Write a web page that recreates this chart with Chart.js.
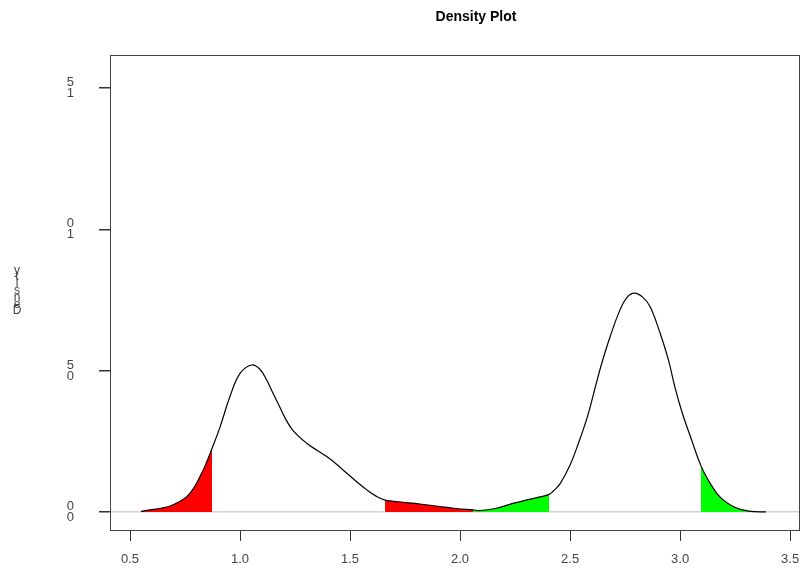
<!DOCTYPE html>
<html>
<head>
<meta charset="utf-8">
<script src="https://cdn.jsdelivr.net/npm/chart.js@4/dist/chart.umd.min.js"></script>
<style>
  body { margin: 0; background: #fff; }
  #wrap { width: 801px; height: 571px; }
</style>
</head>
<body>
<div id="wrap"><canvas id="densityChart" width="801" height="571"></canvas></div>
<script>
// density curve
const densX = [0.55, 0.59, 0.64, 0.68, 0.72, 0.758, 0.79, 0.818, 0.845, 0.873, 0.909, 0.955, 1.0, 1.053, 1.09,
    1.121, 1.15, 1.18, 1.21, 1.241, 1.303, 1.35, 1.394, 1.44, 1.485, 1.53, 1.576, 1.62, 1.659, 1.72, 1.818,
    1.9, 1.98, 2.06, 2.09, 2.16, 2.24, 2.3, 2.364, 2.405, 2.424, 2.455, 2.5, 2.538, 2.58, 2.614, 2.644, 2.682, 2.727,
    2.76, 2.792, 2.83, 2.864, 2.909, 2.947, 2.977, 3.01, 3.05, 3.095, 3.13, 3.167, 3.2, 3.241, 3.28, 3.32, 3.39];
const densY = [0.002, 0.007, 0.013, 0.02, 0.035, 0.054, 0.085, 0.125, 0.17, 0.225, 0.30, 0.41, 0.49, 0.52, 0.505,
    0.467, 0.42, 0.372, 0.325, 0.288, 0.243, 0.218, 0.196, 0.168, 0.137, 0.107, 0.078, 0.055, 0.042, 0.036, 0.028,
    0.02, 0.012, 0.007, 0.005, 0.012, 0.03, 0.042, 0.053, 0.062, 0.074, 0.10, 0.166, 0.243, 0.34, 0.44, 0.526, 0.62, 0.715,
    0.76, 0.774, 0.76, 0.726, 0.633, 0.538, 0.44, 0.35, 0.26, 0.163, 0.11, 0.066, 0.04, 0.019, 0.008, 0.002, 0.0];

// shaded x ranges
const redRanges = [[0.55, 0.873], [1.659, 2.06]];
const greenRanges = [[2.06, 2.405], [3.095, 3.39]];

const xTicks = [0.5, 1.0, 1.5, 2.0, 2.5, 3.0, 3.5];
const xTickLabels = ['0.5', '1.0', '1.5', '2.0', '2.5', '3.0', '3.5'];
const yTicks = [0, 0.5, 1.0, 1.5];
const yTickLabels = [['0', '0'], ['5', '0'], ['0', '1'], ['5', '1']];

const chartTitle = 'Density Plot';
const yTitle = 'Density';

const points = densX.map((x, i) => ({ x: x, y: densY[i] }));

function rangeData(r) {
    return points.filter(p => p.x >= r[0] && p.x <= r[1]);
}

const fillSets = [];
redRanges.forEach(r => fillSets.push({ data: rangeData(r), color: '#ff0000' }));
greenRanges.forEach(r => fillSets.push({ data: rangeData(r), color: '#00ff00' }));

const datasets = fillSets.map(f => ({
    data: f.data,
    fill: 'origin',
    backgroundColor: f.color,
    borderColor: 'rgba(0,0,0,0)',
    borderWidth: 0,
    pointRadius: 0,
    tension: 0.4,
    order: 1
}));
datasets.push({
    data: points,
    fill: false,
    borderColor: '#000',
    borderWidth: 1.2,
    pointRadius: 0,
    tension: 0.4,
    order: 0
});

const decor = {
    id: 'decor',
    beforeDraw(chart) {
        const ctx = chart.ctx;
        ctx.save();
        ctx.fillStyle = '#fff';
        ctx.fillRect(0, 0, chart.width, chart.height);
        ctx.restore();
    },
    afterDraw(chart) {
        const ctx = chart.ctx;
        const a = chart.chartArea;
        ctx.save();
        ctx.strokeStyle = '#444';
        ctx.lineWidth = 1;
        ctx.strokeRect(a.left + 0.5, a.top + 0.5, a.right - a.left - 1, a.bottom - a.top);

        ctx.fillStyle = '#000';
        ctx.font = 'bold 14px "Liberation Sans", Arial, sans-serif';
        ctx.textAlign = 'center';
        ctx.textBaseline = 'middle';
        ctx.fillText(chartTitle, 476, 17);

        // y title: rotated letters come out stacked
        ctx.fillStyle = '#444';
        ctx.font = '12px "Liberation Sans", Arial, sans-serif';
        const chars = yTitle.split('');
        chars.forEach((c, i) => {
            ctx.fillText(c, 17, 311 - i * 6.8);
        });
        ctx.restore();
    }
};

new Chart(document.getElementById('densityChart').getContext('2d'), {
    type: 'line',
    data: { datasets: datasets },
    options: {
        responsive: false,
        animation: false,
        layout: { padding: { top: 55, right: 1, left: 0, bottom: 0 } },
        plugins: {
            legend: { display: false },
            tooltip: { enabled: false },
            title: { display: false }
        },
        scales: {
            x: {
                type: 'linear',
                min: 0.409,
                max: 3.545,
                afterBuildTicks: s => { s.ticks = xTicks.map(v => ({ value: v })); },
                afterFit: s => { s.height = 41; s.paddingLeft = 0; s.paddingRight = 0; },
                border: { display: false },
                grid: {
                    color: 'rgba(0,0,0,0)',
                    tickColor: '#333',
                    tickLength: 11,
                    drawTicks: true
                },
                ticks: {
                    padding: 11,
                    color: '#444',
                    maxRotation: 0,
                    autoSkip: false,
                    font: { family: '"Liberation Sans", Arial, sans-serif', size: 13 },
                    callback: (v) => xTickLabels[xTicks.indexOf(v)]
                }
            },
            y: {
                type: 'linear',
                min: -0.064,
                max: 1.617,
                afterBuildTicks: s => { s.ticks = yTicks.map(v => ({ value: v })); },
                afterFit: s => { s.width = 110; s.paddingTop = 0; s.paddingBottom = 0; },
                border: { display: false },
                grid: {
                    color: ctx => ctx.tick && ctx.tick.value === 0 ? '#d3d3d3' : 'rgba(0,0,0,0)',
                    lineWidth: 1.5,
                    tickColor: '#333',
                    tickLength: 11
                },
                ticks: {
                    padding: 25,
                    color: '#444',
                    autoSkip: false,
                    font: { family: '"Liberation Sans", Arial, sans-serif', size: 13, lineHeight: 0.85 },
                    callback: (v) => yTickLabels[yTicks.indexOf(v)]
                }
            }
        }
    },
    plugins: [decor]
});
</script>
</body>
</html>
